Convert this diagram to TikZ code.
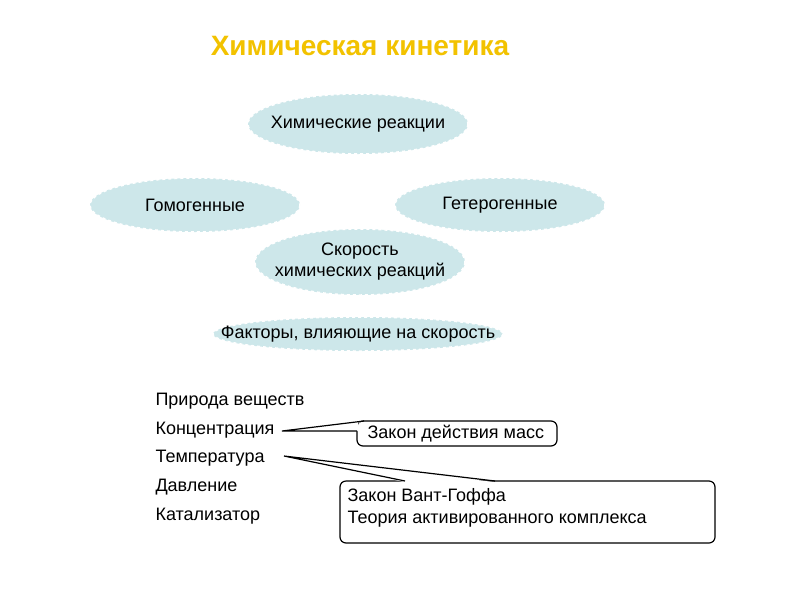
\documentclass[tikz,border=0pt]{standalone}
\usepackage{fontspec}
\setmainfont{Liberation Sans}
\definecolor{cl}{HTML}{CDE7EA}
\definecolor{tt}{HTML}{F2C200}
\begin{document}
\begin{tikzpicture}[x=1pt,y=-1pt,
 blob/.style={fill=cl,draw=white,line width=1.5pt,dashed},
 ctext/.style={align=center,font=\fontsize{18}{21}\selectfont},
 lbl/.style={anchor=west,font=\fontsize{18}{22}\selectfont},
 call/.style={draw,line width=1.2pt,rounded corners=6pt},
 wedge/.style={draw,line width=1.2pt}]
\useasboundingbox (0,0) rectangle (794,595);
\node[font=\bfseries\fontsize{28}{32}\selectfont,text=tt] (t) at (360,46) {Химическая кинетика};
\draw[blob] (358,124) ellipse [x radius=110, y radius=30];
\node[ctext] (r) at (358,124) {Химические реакции};
\draw[blob] (195,205) ellipse [x radius=105, y radius=27];
\node[ctext] (g1) at (195,205) {Гомогенные};
\draw[blob] (500,205) ellipse [x radius=105, y radius=27];
\node[ctext] (g2) at (500,205) {Гетерогенные};
\draw[blob] (360,262) ellipse [x radius=105, y radius=33];
\node[ctext] (s) at (360,262) {Скорость\\химических реакций};
\draw[blob] (358,334) ellipse [x radius=145, y radius=17];
\node[ctext] (f) at (358,334) {Факторы, влияющие на скорость};
\node[lbl] (p1) at (152,401) {Природа веществ};
\node[lbl] (p2) at (152,430) {Концентрация};
\node[lbl] (p3) at (152,458) {Температура};
\node[lbl] (p4) at (152,487) {Давление};
\node[lbl] (p5) at (152,516) {Катализатор};
\coordinate (c1) at (282,431);
\coordinate (c2) at (284,456);
\draw[call,fill=white] (357,421) rectangle (557,446);
\node[lbl] (z1) at (364,434) {Закон действия масс};
\draw[call,fill=white] (340,481) rectangle (715,543);
\node[lbl,align=left] (z2) at (344,508) {Закон Вант-Гоффа\\Теория активированного комплекса};
\fill[white] (364,422.3) -- (c1) -- (358.3,431) -- (358.3,422.3) -- cycle;
\draw[wedge] (364,421) -- (c1) -- (357,431);
\fill[white] (405,482.2) -- (c2) -- (495,482.2) -- cycle;
\draw[wedge] (405,481) -- (c2) -- (495,481);
\end{tikzpicture}
\end{document}
